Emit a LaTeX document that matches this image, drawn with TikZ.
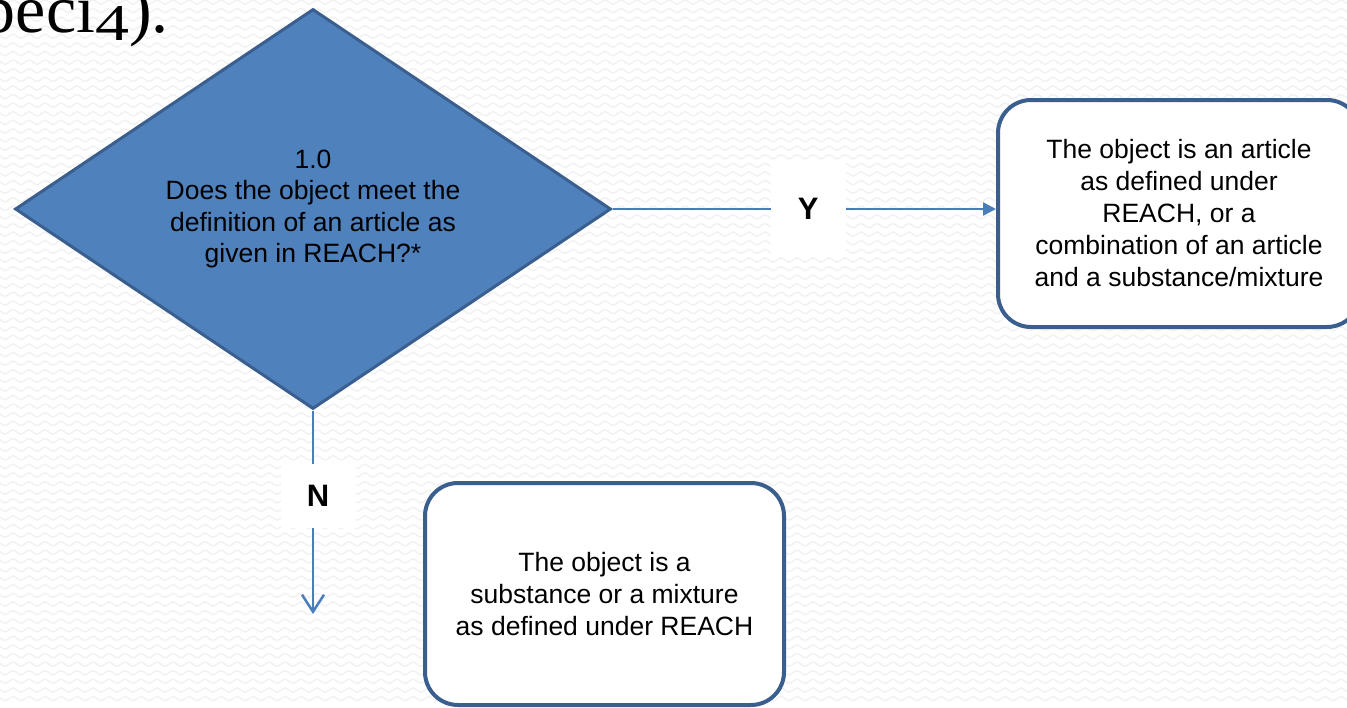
\documentclass[tikz,border=0pt]{standalone}
\usepackage{fontspec}
\usepackage{graphicx}
\setsansfont{Liberation Sans}
\newfontfamily\titlefont{Liberation Serif}
\usetikzlibrary{shapes.geometric,arrows.meta,decorations.pathmorphing}

\definecolor{fillblue}{HTML}{4F81BD}
\definecolor{edgeblue}{HTML}{3A5F8E}
\definecolor{flowblue}{HTML}{4A7EBB}

\tikzset{
  decision/.style={diamond, shape aspect=1.49, draw=edgeblue, fill=fillblue, line width=3pt,
    minimum width=596pt, minimum height=400pt, inner sep=0pt, align=center,
    font=\sffamily\fontsize{26.5}{31.5}\selectfont},
  outcome/.style={rectangle, rounded corners=33pt, draw=edgeblue, fill=white, line width=4pt,
    inner sep=0pt, align=center, font=\sffamily\fontsize{26.5}{32}\selectfont},
  flow/.style={draw=flowblue, line width=2.5pt},
  answer/.style={fill=white, inner sep=0pt, minimum width=75pt,
    font=\sffamily\bfseries\fontsize{31}{31}\selectfont}
}

\begin{document}
\begin{tikzpicture}[x=1pt, y=-1pt]
  \useasboundingbox (0,0) rectangle (1347,707);
  \clip (0,0) rectangle (1347,707);

  % fons blanc amb ondulacions suaus
  \fill[white] (0,0) rectangle (1347,707);
  \foreach \r in {2,10.6,...,707}
    \draw[black!5, line width=1.5pt, decorate, decoration={snake, segment length=16pt, amplitude=2pt}] (-8,\r) -- (1360,\r);

  % resta del titol, tallada a dalt
  \node[anchor=base east, inner sep=0pt, font=\titlefont\fontsize{68}{68}\selectfont] (title) at (169,32)
    {peci\raisebox{-8pt}{\scalebox{1}[0.76]{4}}).};

  % pregunta i resultats
  \node[decision] (q) at (313,209) {1.0\\Does the object meet the\\definition of an article as\\given in REACH?*};
  \node[outcome, minimum width=362pt, minimum height=227pt] (art) at (1179,213.5)
    {The object is an article\\as defined under\\REACH, or a\\combination of an article\\and a substance/mixture};
  \node[outcome, minimum width=359pt, minimum height=222pt] (sub) at (604.5,594)
    {The object is a\\substance or a mixture\\as defined under REACH};
  \coordinate (nend) at (313,614);

  % fletxes
  \draw[flow, -{Triangle[length=13pt,width=13pt]}] (q.east) -- node[answer, minimum height=95pt, pos=0.51] (yes) {Y} (q.east -| art.west);
  \draw[flow, -{Straight Barb[length=17pt,width=22pt]}] (q.south) -- node[answer, minimum height=64pt, pos=0.42, xshift=5pt] (no) {N} (nend);
\end{tikzpicture}
\end{document}
